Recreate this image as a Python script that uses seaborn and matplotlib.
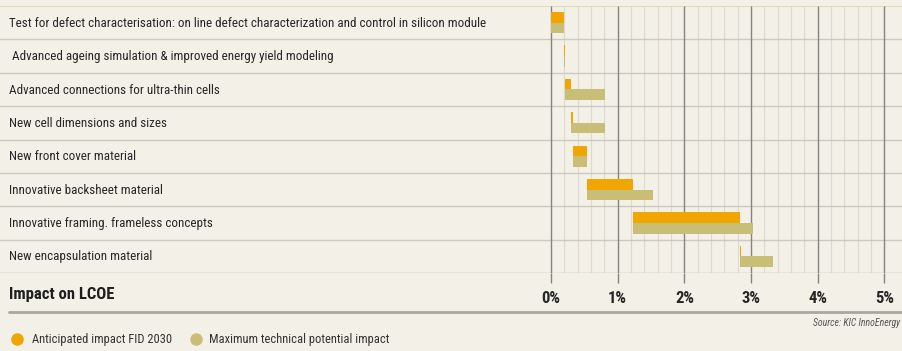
import numpy as np
import pandas as pd
import matplotlib
matplotlib.use("Agg")
import matplotlib.pyplot as plt
from matplotlib.lines import Line2D
from matplotlib.transforms import blended_transform_factory
import seaborn as sns

# Innovation levers and their impact on LCOE (percentage points)
categories = [
    "Test for defect characterisation: on line defect characterization and control in silicon module",
    " Advanced ageing simulation & improved energy yield modeling",
    "Advanced connections for ultra-thin cells",
    "New cell dimensions and sizes",
    "New front cover material",
    "Innovative backsheet material",
    "Innovative framing. frameless concepts",
    "New encapsulation material",
]
anticipated = [0.19, 0.015, 0.10, 0.03, 0.20, 0.70, 1.60, 0.015]
maximum = [0.19, 0.02, 0.60, 0.50, 0.20, 1.00, 1.80, 0.50]
series_names = ["Anticipated impact FID 2030", "Maximum technical potential impact"]
tick_values = [0, 1, 2, 3, 4, 5]
tick_labels = ["0%", "1%", "2%", "3%", "4%", "5%"]
source_text = "Source: KIC InnoEnergy"
axis_title = "Impact on LCOE"

# Waterfall: each lever starts where the anticipated impact of the previous one ends
starts = np.concatenate([[0.0], np.cumsum(anticipated)[:-1]])

df = pd.DataFrame({
    "lever": categories * 2,
    "series": [series_names[0]] * len(categories) + [series_names[1]] * len(categories),
    "impact": anticipated + maximum,
})

BG = "#F3F0E8"
ORANGE = "#F0A500"
KHAKI = "#C9BE76"
TEXT = "#262626"

sns.set_theme(style="white")
plt.rcParams["font.family"] = ["Roboto Condensed", "DejaVu Sans"]
plt.rcParams["font.stretch"] = "condensed"

W, H = 903, 351
fig = plt.figure(figsize=(W / 100, H / 100), dpi=100, facecolor=BG)

top_px, bottom_px = 6, 273
ax = fig.add_axes([0, 1 - bottom_px / H, 1, (bottom_px - top_px) / H])
ax.set_facecolor(BG)

px_per_unit = 66.7
zero_px = 551
ax.set_xlim(-zero_px / px_per_unit, (W - zero_px) / px_per_unit)

sns.barplot(
    data=df, y="lever", x="impact", hue="series", order=categories,
    hue_order=series_names, palette=[ORANGE, KHAKI], saturation=1, dodge=True,
    width=0.64, errorbar=None, legend=False, linewidth=0, left=starts,
    ax=ax, zorder=3,
)
ax.set_ylim(len(categories) - 0.5, -0.5)

# Vertical grid: minor lines every 0.2 %, major lines every 1 %
minor = [v / 10 for v in range(2, 50, 2) if v % 10 != 0]
ax.vlines(minor, -0.5, len(categories) - 0.5, color="#DDD9CF", lw=0.8, zorder=1)
ax.vlines(tick_values, -0.5, len(categories) - 0.5, color="#858380", lw=1.0, zorder=2)

# Row separators
for y in np.arange(0.5, len(categories) - 0.5, 1.0):
    ax.axhline(y, color="#CDC9C0", lw=1.0, zorder=1)
ax.axhline(-0.5, color="#E4DBB2", lw=1.5, zorder=1)
ax.axhline(len(categories) - 0.5, color="#B8B5AE", lw=1.0, zorder=1)

for s in ax.spines.values():
    s.set_visible(False)
ax.set_ylabel("")
ax.set_xlabel("")
ax.set_yticks([])
ax.set_xticks(tick_values)
ax.set_xticklabels(tick_labels, fontsize=12, fontweight="bold", color=TEXT)
ax.tick_params(axis="x", bottom=True, length=7, width=1.0, color="#858380",
               direction="out", pad=6)

# Row labels on the left
trans = blended_transform_factory(ax.transAxes, ax.transData)
for i, name in enumerate(categories):
    ax.text(9 / W, i + 0.02, name, transform=trans, ha="left", va="center",
            fontsize=9.4, color=TEXT)

fig.text(9 / W, 1 - 295 / H, axis_title, ha="left", va="center",
         fontsize=12, fontweight="bold", color="#1E1E1E")

# Bottom rule
fig.add_artist(Line2D([9 / W, 1], [1 - 312 / H] * 2, color="#A9A6A0", lw=2.0,
                      transform=fig.transFigure))

fig.text(900 / W, 1 - 323 / H, source_text, ha="right", va="center",
         fontsize=7, style="italic", color="#555555")

# Legend
for xm, xt, col, label in [(17, 32, ORANGE, series_names[0]),
                           (196, 209, KHAKI, series_names[1])]:
    fig.add_artist(Line2D([xm / W], [1 - 339 / H], marker="o", markersize=9,
                          markerfacecolor=col, markeredgewidth=0,
                          transform=fig.transFigure))
    fig.text(xt / W, 1 - 339 / H, label, ha="left", va="center",
             fontsize=9, color="#333333")

fig.savefig("out.png", dpi=100, facecolor=BG)
